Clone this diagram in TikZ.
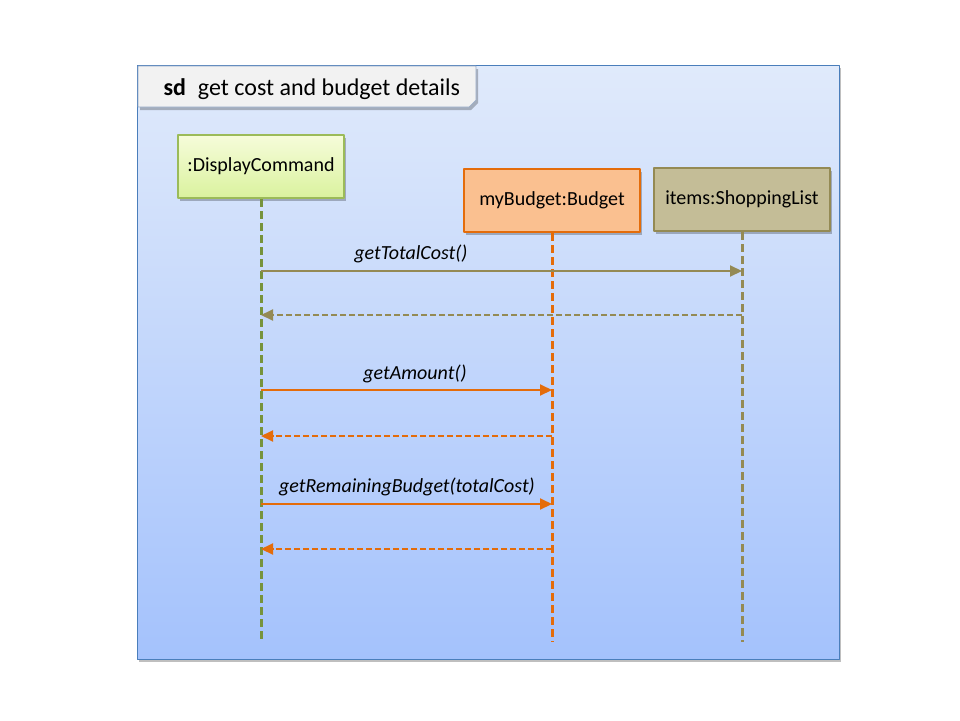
\documentclass[tikz,border=0pt]{standalone}
\usepackage{fontspec}
\setmainfont{Carlito}
\usepackage{tikz}
\usetikzlibrary{arrows.meta,shadows}

\definecolor{frameTop}{RGB}{224,234,251}
\definecolor{frameBot}{RGB}{164,194,252}
\definecolor{frameLine}{RGB}{74,126,187}
\definecolor{tabFill}{RGB}{242,242,242}
\definecolor{tabLine}{RGB}{150,170,200}
\definecolor{dcTop}{RGB}{246,252,218}
\definecolor{dcBot}{RGB}{218,242,158}
\definecolor{dcLine}{RGB}{155,187,89}
\definecolor{dcLife}{RGB}{119,147,60}
\definecolor{budFill}{RGB}{250,192,144}
\definecolor{budLine}{RGB}{228,108,10}
\definecolor{itemFill}{RGB}{196,189,151}
\definecolor{itemLine}{RGB}{148,138,84}

\begin{document}
\begin{tikzpicture}[x=1pt, y=-1pt, >={Triangle[length=12pt,width=11pt]}, line join=round,
	font=\fontsize{20}{24}\selectfont,
	shade/.style={drop shadow={shadow xshift=2pt, shadow yshift=-3pt, fill=black, opacity=0.25}},
	objbox/.style={draw, line width=2pt, minimum width=166pt, minimum height=63pt, inner sep=0pt, shade},
	life/.style={line width=3pt, dash pattern=on 8pt off 4pt},
	msg/.style={->, line width=2pt},
	ret/.style={->, line width=2pt, dash pattern=on 6pt off 3pt},
	lbl/.style={font=\fontsize{20}{24}\selectfont\itshape}]
	\useasboundingbox (0,0) rectangle (960,720);

	% Frame
	\draw[frameLine, line width=1pt, top color=frameTop, bottom color=frameBot, shade] (137,65) rectangle (839,659);

	% Title tab
	\draw[tabLine, line width=0.6pt, fill=tabFill, shade] (138,66) -- (476,66) -- (476,100) -- (469,107) -- (138,107) -- cycle;
	\node[anchor=base west, font=\fontsize{24}{28}\selectfont] (title) at (160,95) {\textbf{sd}\enspace get cost and budget details};

	% Objects
	\node[objbox, draw=dcLine, top color=dcTop, bottom color=dcBot] (dc) at (261,166.5) {:DisplayCommand};
	\node[objbox, draw=budLine, fill=budFill, minimum width=176pt] (bud) at (552,200.5) {myBudget:Budget};
	\node[objbox, draw=itemLine, fill=itemFill, minimum width=176pt] (items) at (742,199.5) {items:ShoppingList};

	% Lifelines
	\foreach \o/\c in {dc/dcLife, bud/budLine, items/itemLine} {
		\coordinate (\o-end) at (\o.south |- 0,642);
		\draw[life, \c] (\o.south) -- (\o-end);
	}

	% Messages
	\draw[msg, itemLine] (dc.south |- 0,271) -- (items.south |- 0,271);
	\node[lbl] (m1) at (411,254) {getTotalCost()};
	\draw[ret, itemLine] (items.south |- 0,315) -- (dc.south |- 0,315);

	\draw[msg, budLine] (dc.south |- 0,390) -- (bud.south |- 0,390);
	\node[lbl] (m2) at (415,374) {getAmount()};
	\draw[ret, budLine] (bud.south |- 0,436) -- (dc.south |- 0,436);

	\draw[msg, budLine] (dc.south |- 0,504) -- (bud.south |- 0,504);
	\node[lbl] (m3) at (407,487) {getRemainingBudget(totalCost)};
	\draw[ret, budLine] (bud.south |- 0,549) -- (dc.south |- 0,549);
\end{tikzpicture}
\end{document}
